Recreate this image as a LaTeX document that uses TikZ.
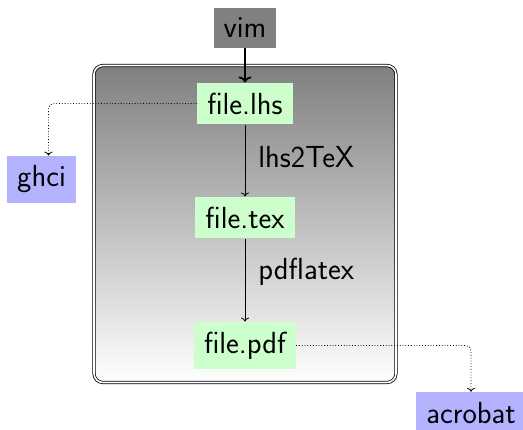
\documentclass[tikz,border=0pt]{standalone}
\usetikzlibrary{arrows.meta}
\begin{document}
\begin{tikzpicture}[x=1pt,y=1pt,
  every node/.style={font=\sffamily\fontsize{30.5}{36}\selectfont},
  filebox/.style={fill=green!20, inner sep=10pt},
  toolbox/.style={fill=blue!30, inner sep=10pt},
  edbox/.style={fill=gray, inner sep=10pt},
  flow/.style={line width=0.8pt, -{To[width=8pt,length=4pt]}},
  bigflow/.style={line width=1.8pt, -{To[width=13pt,length=6pt]}},
  side/.style={line width=0.8pt, dotted, rounded corners=5pt, -{To[width=8pt,length=4pt]}},
  lbl/.style={inner sep=0pt, anchor=west, xshift=13pt}]
\useasboundingbox (0,0) rectangle (523,430);
\node (box) [draw, line width=0.8pt, double, double distance=1.6pt,
  rounded corners=9pt, top color=gray, bottom color=white,
  minimum width=302pt, minimum height=317pt, inner sep=0pt] at (245,206) {};
\node (vim) [edbox] at (245,402) {vim};
\node (fl) [filebox] at (245,326.5) {file.lhs};
\node (ft) [filebox] at (245,212.5) {file.tex};
\node (fp) [filebox] at (245,84.5) {file.pdf};
\node (ghci) [toolbox] at (41.5,250.5) {ghci};
\node (acro) [toolbox] at (471,17.3) {acrobat};
\draw[bigflow] (vim) -- (fl);
\draw[flow] (fl) -- node[lbl, pos=0.45] {lhs2TeX} (ft);
\draw[flow] (ft) -- node[lbl, pos=0.4] {pdflatex} (fp);
\draw[side] (fl.west) -| ([xshift=7pt]ghci.north);
\draw[side] (fp.east) -| (acro.north);
\end{tikzpicture}
\end{document}
